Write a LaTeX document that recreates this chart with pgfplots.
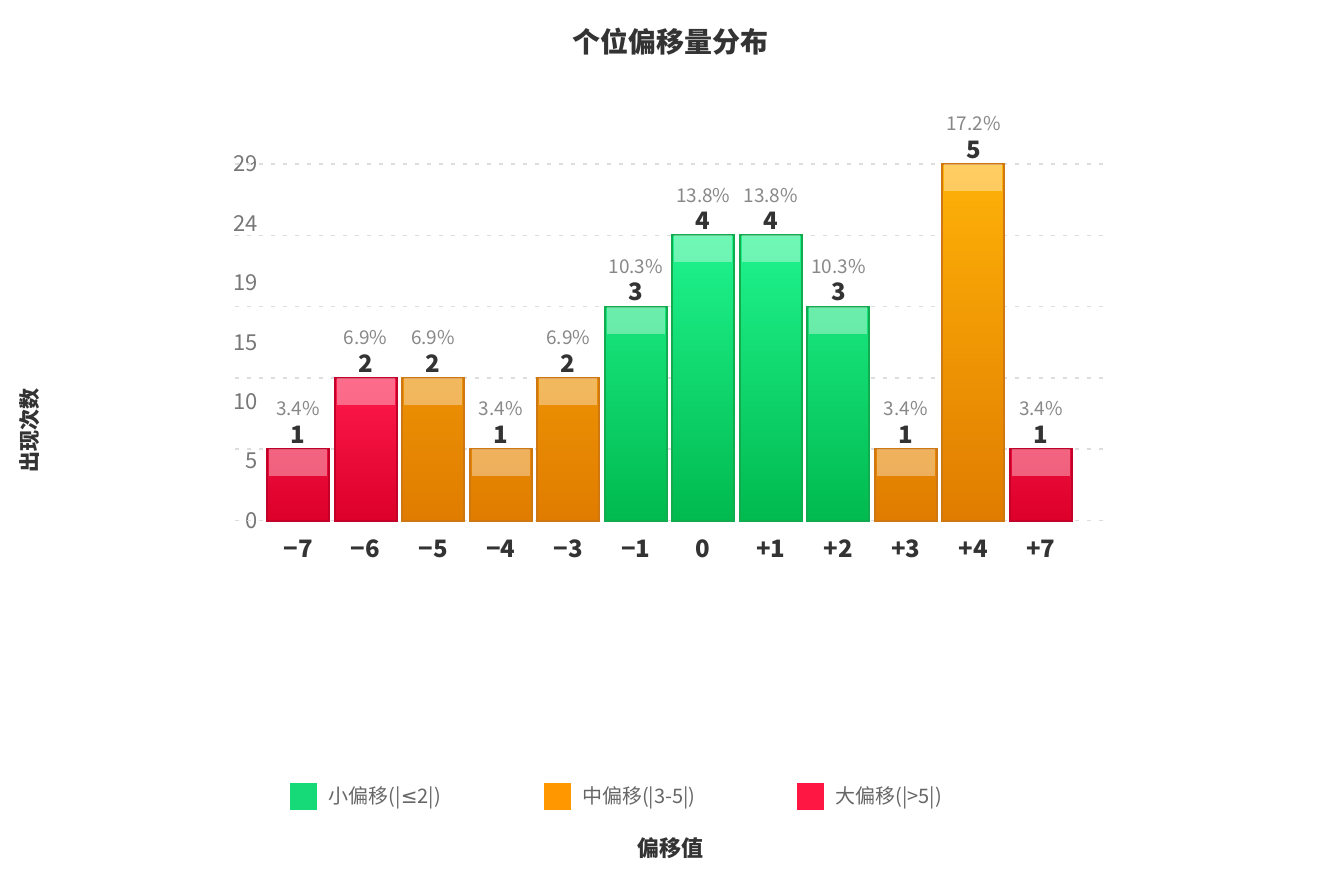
\documentclass[border=0pt]{standalone}
\usepackage{pgfplots}
\pgfplotsset{compat=1.18}
\usepackage{pgfplotstable}
\usepackage{fontspec}
\setmainfont{Noto Sans CJK SC}
\newfontfamily\djv{DejaVu Sans}

\definecolor{gtop}{HTML}{20F48E}
\definecolor{gbot}{HTML}{00BA4E}
\definecolor{gbord}{HTML}{12AC50}
\definecolor{otop}{HTML}{FFB208}
\definecolor{obot}{HTML}{E07C00}
\definecolor{obord}{HTML}{CF7812}
\definecolor{rtop}{HTML}{FF1A4C}
\definecolor{rbot}{HTML}{DC002A}
\definecolor{rbord}{HTML}{C2002A}
\definecolor{lg}{HTML}{16D977}
\definecolor{lo}{HTML}{FF9800}
\definecolor{lr}{HTML}{FF1744}
\definecolor{cdark}{HTML}{333333}
\definecolor{cmid}{HTML}{777777}
\definecolor{cpct}{HTML}{888888}
\definecolor{clegend}{HTML}{666666}
\definecolor{gridc}{HTML}{DDDDDD}

% x = category index (0..11 for -7,-6,-5,-4,-3,-1,0,+1,+2,+3,+4,+7), y = count, pct = share
\pgfplotstableread{
x y pct
0 1 3.4
1 2 6.9
11 1 3.4
}\reddata
\pgfplotstableread{
x y pct
2 2 6.9
3 1 3.4
4 2 6.9
9 1 3.4
10 5 17.2
}\orangedata
\pgfplotstableread{
x y pct
5 3 10.3
6 4 13.8
7 4 13.8
8 3 10.3
}\greendata

\pgfplotsset{
  barstyle/.style n args={3}{
    ybar, bar width=31pt, bar shift=0pt,
    draw=#3, line width=1pt, top color=#1, bottom color=#2,
    nodes near coords={\pgfmathprintnumber{\pgfplotspointmeta}},
    every node near coord/.append style={font=\fontsize{12}{14}\selectfont\bfseries, text=cdark, yshift=-1pt},
    error bars/y dir=minus, error bars/y fixed=0.38, error bars/error mark=none,
    error bars/error bar style={line width=29pt, draw=white, draw opacity=0.36},
  },
  pctstyle/.style={
    ybar, bar width=31pt, bar shift=0pt, draw=none, fill=none,
    point meta=explicit symbolic,
    nodes near coords={\pgfplotspointmeta\%},
    every node near coord/.append style={font=\fontsize{9.5}{11}\selectfont, text=cpct, yshift=13pt},
  },
  legsq/.style={legend image code/.code={\fill[#1] (0pt,-6.5pt) rectangle (13pt,6.5pt); \path[draw=none, fill=none] (0pt,0pt) -- (17pt,0pt);}},
}

\begin{document}
\begin{tikzpicture}
\path[use as bounding box] (0,0) rectangle (662.5pt,434.5pt);
\begin{axis}[
  at={(117.5pt,174.2pt)}, anchor=south west,
  scale only axis, width=435pt, height=178.3pt,
  xmin=-0.933, xmax=11.948, ymin=0, ymax=5,
  clip=false,
  axis line style={draw=none},
  major tick length=0pt,
  /pgf/number format/assume math mode=true,
  xtick={0,...,11},
  xticklabels={−7,−6,−5,−4,−3,−1,0,+1,+2,+3,+4,+7},
  xticklabel style={font=\fontsize{12}{14}\selectfont\bfseries, text=cdark, yshift=-6pt},
  ytick={0,0.8333,1.6667,2.5,3.3333,4.1667,5},
  yticklabels={0,5,10,15,19,24,29},
  yticklabel style={font=\fontsize{11}{13}\selectfont, text=cmid, xshift=14.8pt},
  extra y ticks={0,1,2,3,4,5},
  extra y tick labels={},
  extra y tick style={grid=major, major grid style={draw=gridc, line width=0.8pt, dash pattern=on 2pt off 4pt}},
  title={个位偏移量分布},
  title style={at={(0.5,1.309)}, anchor=center, font=\fontsize{14}{16}\selectfont\bfseries, text=cdark},
  xlabel={偏移值},
  xlabel style={at={(0.5,-0.918)}, anchor=center, font=\fontsize{11}{13}\selectfont\bfseries, text=cdark},
  ylabel={出现次数},
  ylabel style={at={(-0.2356,0.254)}, anchor=center, font=\fontsize{10.5}{12}\selectfont\bfseries, text=cdark},
  legend columns=3,
  legend style={at={(0.0563,-0.7746)}, anchor=west, draw=none, fill=none,
    font=\fontsize{10}{12}\selectfont, text=clegend,
    /tikz/every even column/.append style={column sep=0pt}},
]
\addlegendimage{legsq=lg}
\addlegendentry{\makebox[105.5pt][l]{小偏移(|{\djv ≤}2|)}}
\addlegendimage{legsq=lo}
\addlegendentry{\makebox[105.5pt][l]{中偏移(|3-5|)}}
\addlegendimage{legsq=lr}
\addlegendentry{大偏移(|>5|)}

\addplot[barstyle={rtop}{rbot}{rbord}, forget plot] table[x=x, y=y] {\reddata};
\addplot[barstyle={otop}{obot}{obord}, forget plot] table[x=x, y=y] {\orangedata};
\addplot[barstyle={gtop}{gbot}{gbord}, forget plot] table[x=x, y=y] {\greendata};

\addplot[pctstyle, forget plot] table[x=x, y=y, meta=pct] {\reddata};
\addplot[pctstyle, forget plot] table[x=x, y=y, meta=pct] {\orangedata};
\addplot[pctstyle, forget plot] table[x=x, y=y, meta=pct] {\greendata};
\end{axis}
\end{tikzpicture}
\end{document}
